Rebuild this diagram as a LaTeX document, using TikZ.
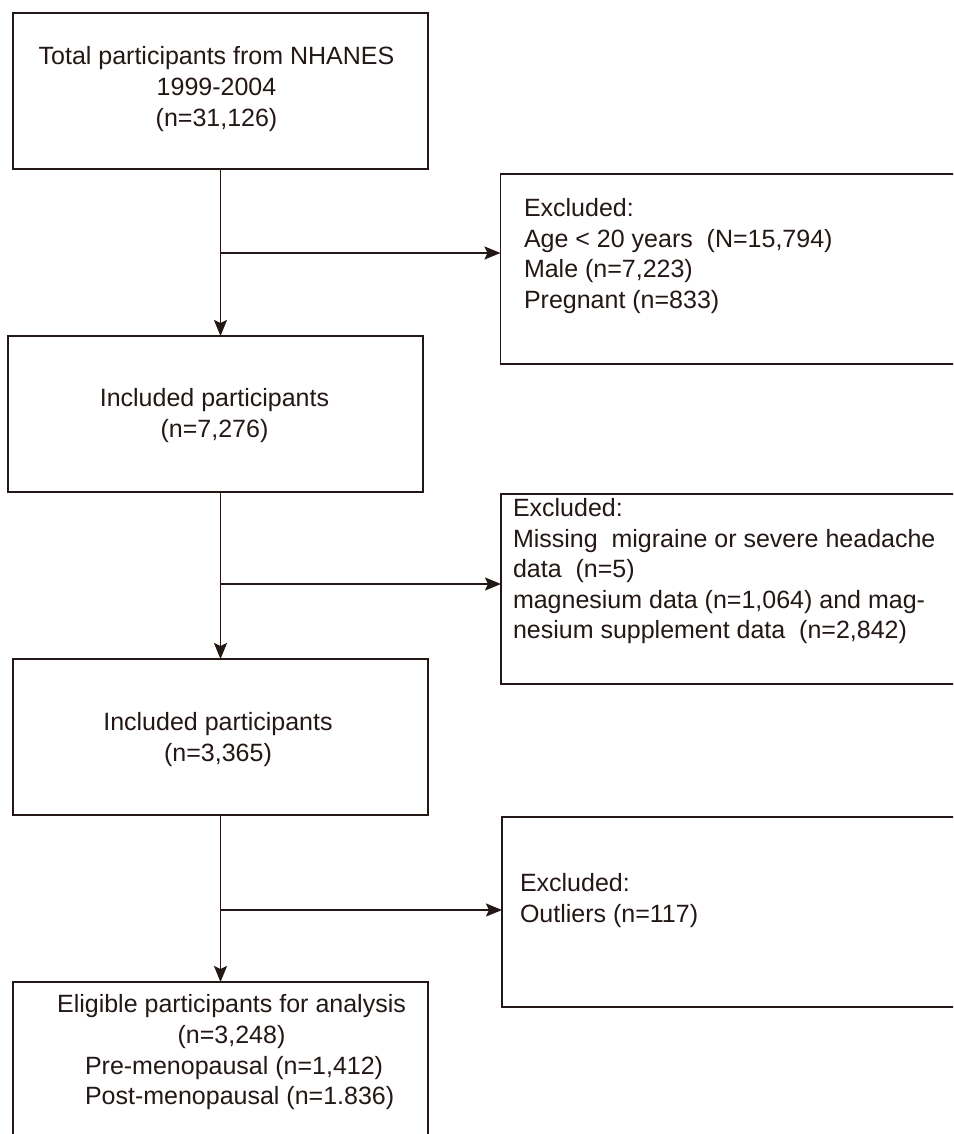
\documentclass[tikz,border=0pt]{standalone}
\usepackage{fontspec}
\setmainfont{Liberation Sans}
\usetikzlibrary{arrows.meta}
\definecolor{ink}{HTML}{231815}
\begin{document}
\begin{tikzpicture}[x=1pt,y=-1pt,
  box/.style={draw=ink, line width=1.9pt, rectangle, inner sep=0pt, outer sep=0pt, anchor=north west},
  txtc/.style={inner sep=0pt, outer sep=0pt, text=ink, anchor=north, align=center, font={\fontsize{25pt}{31pt}\selectfont}},
  txtl/.style={inner sep=0pt, outer sep=0pt, text=ink, anchor=north west, align=left, font={\fontsize{25pt}{30.5pt}\selectfont}},
  arr/.style={draw=ink, line width=1.9pt, -{Stealth[length=16pt,width=13pt,inset=3pt]}}]
\useasboundingbox (0,0) rectangle (953,1134);
\clip (0,0) rectangle (953,1134);
\fill[white] (0,0) rectangle (953,1134);

% boxes
\node[box, minimum width=415pt, minimum height=156pt] (b1) at (13,13) {};
\node[box, minimum width=500pt, minimum height=190pt] (b2) at (500.5,174) {};
\node[box, minimum width=415pt, minimum height=156pt] (b3) at (8,336) {};
\node[box, minimum width=500pt, minimum height=190pt] (b4) at (501,494) {};
\node[box, minimum width=415pt, minimum height=156pt] (b5) at (13,659) {};
\node[box, minimum width=500pt, minimum height=190pt] (b6) at (502,817) {};
\node[box, minimum width=415pt, minimum height=200pt] (b7) at (13,982) {};

% texts
\node[txtc] (t1) at (216.5,45) {\rule{0pt}{20pt}Total participants from NHANES\\1999-2004\\(n=31,126)};
\node[txtl] (t2) at (524,196.7) {\rule{0pt}{20pt}Excluded:\\Age < 20 years\ \ (N=15,794)\\Male (n=7,223)\\Pregnant (n=833)};
\node[txtc] (t3) at (214.5,386) {\rule{0pt}{20pt}Included participants\\(n=7,276)};
\node[txtl] (t4) at (513,496.7) {\rule{0pt}{20pt}Excluded:\\Missing\ \ migraine or severe headache\\data\ \ (n=5)\\magnesium data (n=1,064) and mag-\\nesium supplement data\ \ (n=2,842)};
\node[txtc] (t5) at (218,710) {\rule{0pt}{20pt}Included participants\\(n=3,365)};
\node[txtl] (t6) at (520,871.7) {\rule{0pt}{20pt}Excluded:\\Outliers (n=117)};
\node[txtc] (t7) at (231.5,992.7) {\rule{0pt}{20pt}Eligible participants for analysis\\(n=3,248)};
\node[txtl] (t8) at (85,1054) {\rule{0pt}{20pt}Pre-menopausal (n=1,412)\\Post-menopausal (n=1.836)};

% junctions
\coordinate (j1) at (220.5,253);
\coordinate (j2) at (220.5,584);
\coordinate (j3) at (220.5,910);

% connectors
\draw[arr] (b1.south) -- (b1.south |- b3.north);
\draw[arr] (b5.north |- b3.south) -- (b5.north);
\draw[arr] (b5.south) -- (b7.north);
\draw[arr] (j1) -- (j1 -| b2.west);
\draw[arr] (j2) -- (j2 -| b4.west);
\draw[arr] (j3) -- (j3 -| b6.west);
\end{tikzpicture}
\end{document}
